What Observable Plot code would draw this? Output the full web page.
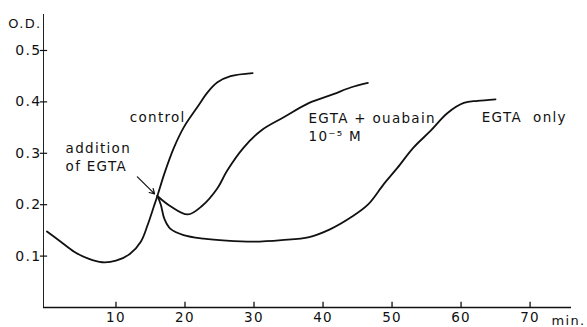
<!DOCTYPE html>
<html>
<head>
<meta charset="utf-8">
<script src="https://cdn.jsdelivr.net/npm/d3@7"></script>
<script src="https://cdn.jsdelivr.net/npm/@observablehq/plot@0.6"></script>
<style>
  html, body { margin: 0; padding: 0; background: #fff; }
  svg { display: block; }
  svg text { letter-spacing: 1.3px; }
</style>
</head>
<body>
<div id="chart"></div>
<script>
// Shared baseline before addition of EGTA (time in min, optical density)
const baseTime = [0, 2, 4, 6, 8, 10, 12, 13.6, 14.6, 15.5, 16];
const baseOD   = [0.148, 0.128, 0.108, 0.095, 0.088, 0.091, 0.104, 0.128, 0.161, 0.197, 0.217];

// Control continues rising
const controlTime = [17, 18.4, 19.8, 21.8, 23.3, 24.7, 26.6, 29.8];
const controlOD   = [0.26, 0.311, 0.35, 0.39, 0.419, 0.438, 0.45, 0.456];

// EGTA + ouabain 10^-5 M (starts at addition point)
const ouabainTime = [16, 17.9, 20.4, 22.5, 24.7, 26.1, 28.5, 31, 34.3, 38, 41.5, 44, 46.5];
const ouabainOD   = [0.217, 0.197, 0.181, 0.198, 0.232, 0.266, 0.311, 0.344, 0.37, 0.398, 0.415, 0.428, 0.437];

// EGTA only (starts at addition point)
const egtaTime = [16, 16.5, 17, 17.9, 19.8, 22.7, 26, 30, 34, 38, 41, 44, 46.5, 48.8, 50.8, 53.1, 55.6, 58, 60.4, 62.4, 65];
const egtaOD   = [0.217, 0.2, 0.173, 0.153, 0.141, 0.134, 0.13, 0.128, 0.131, 0.137, 0.152, 0.175, 0.2, 0.24, 0.272, 0.311, 0.344, 0.378, 0.398, 0.402, 0.405];

const xTicks = [10, 20, 30, 40, 50, 60, 70];
const yTicks = [0.1, 0.2, 0.3, 0.4, 0.5];
const xDomain = [-0.5, 76];
const yDomain = [0, 0.57];

const toRows = (t, v) => t.map((d, i) => ({t: d, od: v[i]}));
const controlRows = toRows(baseTime.concat(controlTime), baseOD.concat(controlOD));
const ouabainRows = toRows(ouabainTime, ouabainOD);
const egtaRows = toRows(egtaTime, egtaOD);

const font = "DejaVu Sans, sans-serif";
const lineStyle = {x: "t", y: "od", stroke: "#111", strokeWidth: 1.8, curve: "catmull-rom"};

const chart = Plot.plot({
  width: 587,
  height: 327,
  marginLeft: 43,
  marginRight: 16,
  marginTop: 14,
  marginBottom: 20,
  style: {fontFamily: font, fontSize: "13px", background: "#fff", color: "#111"},
  x: {domain: xDomain, label: null},
  y: {domain: yDomain, label: null},
  marks: [
    Plot.ruleX([xDomain[0]], {stroke: "#222", strokeWidth: 1}),
    Plot.ruleY([yDomain[0]], {stroke: "#111", strokeWidth: 1.4}),
    // short tick marks on the axes
    Plot.ruleX(xTicks, {x: d => d, y1: yDomain[0], y2: yDomain[0] + 0.01, stroke: "#111", strokeWidth: 1.3}),
    Plot.ruleY(yTicks, {y: d => d, x1: xDomain[0] - 0.45, x2: xDomain[0] + 0.6, stroke: "#111", strokeWidth: 1.2}),
    Plot.axisX({ticks: xTicks, tickSize: 0, tickPadding: 5, tickFormat: d => String(d), fontSize: 13.5}),
    Plot.axisY({ticks: yTicks, tickSize: 0, tickPadding: 2, tickFormat: d => d.toFixed(1), fontSize: 14}),
    Plot.line(controlRows, lineStyle),
    Plot.line(ouabainRows, lineStyle),
    Plot.line(egtaRows, lineStyle),
    Plot.arrow([{}], {x1: 13.1, y1: 0.254, x2: 15.6, y2: 0.221, bend: 0, headLength: 7, stroke: "#111", strokeWidth: 1.2}),
    Plot.text(["control"], {x: 12.0, y: 0.37, textAnchor: "start", lineAnchor: "middle", fontSize: 13.5, fill: "#111"}),
    Plot.text(["addition\nof EGTA"], {x: 2.7, y: 0.295, textAnchor: "start", lineAnchor: "middle", lineHeight: 1.35, fontSize: 13.5, fill: "#111"}),
    Plot.text(["EGTA + ouabain\n10⁻⁵ M"], {x: 37.9, y: 0.352, textAnchor: "start", lineAnchor: "middle", lineHeight: 1.35, fontSize: 13.5, fill: "#111"}),
    Plot.text(["EGTA  only"], {x: 63.0, y: 0.37, textAnchor: "start", lineAnchor: "middle", fontSize: 13.5, fill: "#111"}),
    Plot.text(["O.D."], {frameAnchor: "top-left", dx: -2, dy: 9, textAnchor: "end", lineAnchor: "middle", fontSize: 13, fill: "#111"}),
    Plot.text(["min."], {x: xDomain[1], y: yDomain[0], dx: -20, dy: 13, textAnchor: "start", lineAnchor: "middle", fontSize: 13, fill: "#111"})
  ]
});
document.getElementById("chart").appendChild(chart);
</script>
</body>
</html>
